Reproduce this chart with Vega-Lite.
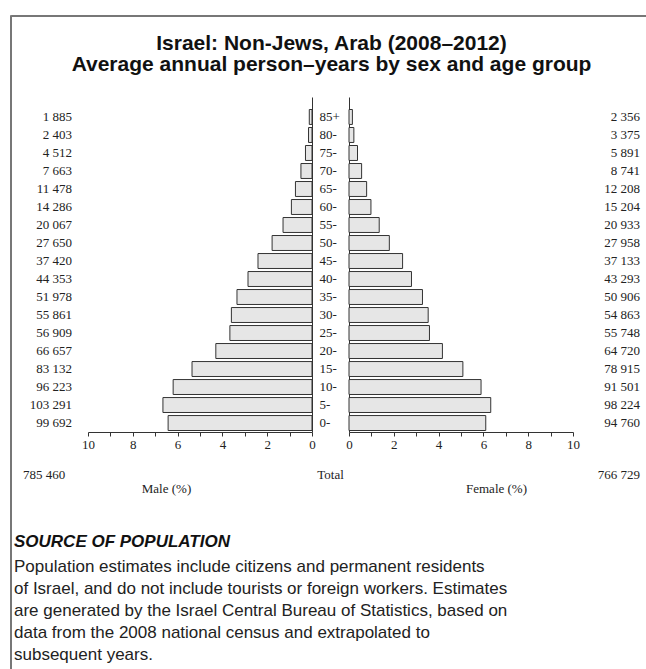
{
  "$schema": "https://vega.github.io/schema/vega-lite/v6.json",
  "padding": {"left": 9, "top": 14, "right": 0, "bottom": 0},
  "config": {
    "view": {"stroke": null},
    "locale": {"number": {"decimal": ".", "thousands": " ", "grouping": [3], "currency": ["", ""]}},
    "axis": {"labelFont": "Liberation Serif", "titleFont": "Liberation Serif", "labelFontSize": 13, "titleFontSize": 13, "titleFontWeight": "normal", "labelColor": "#222", "titleColor": "#222", "domainColor": "#333", "tickColor": "#333", "grid": false},
    "text": {"font": "Liberation Serif", "fontSize": 13, "color": "#222"}
  },
  "datasets": {
    "pyr": [
      {"age": "85+", "sex": "Male", "count": 1885, "pct": 0.121},
      {"age": "80-", "sex": "Male", "count": 2403, "pct": 0.155},
      {"age": "75-", "sex": "Male", "count": 4512, "pct": 0.291},
      {"age": "70-", "sex": "Male", "count": 7663, "pct": 0.494},
      {"age": "65-", "sex": "Male", "count": 11478, "pct": 0.739},
      {"age": "60-", "sex": "Male", "count": 14286, "pct": 0.920},
      {"age": "55-", "sex": "Male", "count": 20067, "pct": 1.293},
      {"age": "50-", "sex": "Male", "count": 27650, "pct": 1.781},
      {"age": "45-", "sex": "Male", "count": 37420, "pct": 2.411},
      {"age": "40-", "sex": "Male", "count": 44353, "pct": 2.857},
      {"age": "35-", "sex": "Male", "count": 51978, "pct": 3.349},
      {"age": "30-", "sex": "Male", "count": 55861, "pct": 3.599},
      {"age": "25-", "sex": "Male", "count": 56909, "pct": 3.666},
      {"age": "20-", "sex": "Male", "count": 66657, "pct": 4.294},
      {"age": "15-", "sex": "Male", "count": 83132, "pct": 5.356},
      {"age": "10-", "sex": "Male", "count": 96223, "pct": 6.199},
      {"age": "5-", "sex": "Male", "count": 103291, "pct": 6.655},
      {"age": "0-", "sex": "Male", "count": 99692, "pct": 6.423},
      {"age": "85+", "sex": "Female", "count": 2356, "pct": 0.152},
      {"age": "80-", "sex": "Female", "count": 3375, "pct": 0.217},
      {"age": "75-", "sex": "Female", "count": 5891, "pct": 0.380},
      {"age": "70-", "sex": "Female", "count": 8741, "pct": 0.563},
      {"age": "65-", "sex": "Female", "count": 12208, "pct": 0.787},
      {"age": "60-", "sex": "Female", "count": 15204, "pct": 0.980},
      {"age": "55-", "sex": "Female", "count": 20933, "pct": 1.349},
      {"age": "50-", "sex": "Female", "count": 27958, "pct": 1.801},
      {"age": "45-", "sex": "Female", "count": 37133, "pct": 2.392},
      {"age": "40-", "sex": "Female", "count": 43293, "pct": 2.789},
      {"age": "35-", "sex": "Female", "count": 50906, "pct": 3.280},
      {"age": "30-", "sex": "Female", "count": 54863, "pct": 3.535},
      {"age": "25-", "sex": "Female", "count": 55748, "pct": 3.592},
      {"age": "20-", "sex": "Female", "count": 64720, "pct": 4.170},
      {"age": "15-", "sex": "Female", "count": 78915, "pct": 5.084},
      {"age": "10-", "sex": "Female", "count": 91501, "pct": 5.895},
      {"age": "5-", "sex": "Female", "count": 98224, "pct": 6.328},
      {"age": "0-", "sex": "Female", "count": 94760, "pct": 6.105}
    ],
    "totals": [
      {"sex": "Male", "total": 785460},
      {"sex": "Female", "total": 766729}
    ]
  },
  "spacing": 0,
  "bounds": "flush",
  "hconcat": [
    {
      "width": 1,
      "height": 700,
      "view": {"stroke": "#777", "strokeWidth": 1},
      "data": {"values": [{}]},
      "mark": {"type": "rule", "opacity": 0},
      "encoding": {}
    },
    {
      "spacing": 16,
      "title": {
        "text": "SOURCE OF POPULATION",
        "subtitle": [
          "Population estimates include citizens and permanent residents",
          "of Israel, and do not include tourists or foreign workers. Estimates",
          "are generated by the Israel Central Bureau of Statistics, based on",
          "data from the 2008 national census and extrapolated to",
          "subsequent years."
        ],
        "orient": "bottom",
        "anchor": "start",
        "frame": "bounds",
        "dx": 4,
        "offset": 39,
        "font": "Liberation Sans",
        "fontSize": 17,
        "fontStyle": "italic",
        "fontWeight": "bold",
        "color": "#111",
        "subtitleFont": "Liberation Sans",
        "subtitleFontSize": 17,
        "subtitleColor": "#222",
        "subtitleLineHeight": 22,
        "subtitlePadding": 8
      },
      "vconcat": [
        {
          "width": 637,
          "height": 1,
          "view": {"stroke": "#777", "strokeWidth": 1},
          "data": {"values": [{}]},
          "mark": {"type": "rule", "opacity": 0},
          "encoding": {}
        },
        {
          "spacing": 0,
          "bounds": "flush",
          "title": {
            "text": ["Israel: Non-Jews, Arab (2008–2012)", "Average annual person–years by sex and age group"],
            "anchor": "middle",
            "font": "Liberation Sans",
            "fontSize": 21,
            "fontWeight": "bold",
            "color": "#111",
            "lineHeight": 21,
            "offset": 22,
            "dx": 6
          },
          "hconcat": [
            {
              "width": 77,
              "height": 335,
              "layer": [
                {
                  "data": {"name": "pyr"},
                  "transform": [{"filter": "datum.sex === 'Male'"}],
                  "mark": {"type": "text", "align": "right", "baseline": "middle", "dx": -16},
                  "encoding": {
                    "y": {"field": "age", "type": "nominal", "sort": null, "scale": {"type": "band", "paddingInner": 0.17, "paddingOuter": 0.389, "align": 0.893}, "axis": null},
                    "x": {"value": "width"},
                    "text": {"field": "count", "type": "quantitative", "format": ",d"}
                  }
                },
                {
                  "data": {"name": "totals"},
                  "transform": [{"filter": "datum.sex === 'Male'"}],
                  "mark": {"type": "text", "align": "left", "baseline": "middle", "dy": 43},
                  "encoding": {
                    "x": {"value": 12},
                    "y": {"value": "height"},
                    "text": {"field": "total", "type": "quantitative", "format": ",d"}
                  }
                }
              ]
            },
            {
              "width": 224,
              "height": 335,
              "data": {"name": "pyr"},
              "transform": [{"filter": "datum.sex === 'Male'"}],
              "mark": {"type": "bar", "fill": "#e6e6e6", "stroke": "#333", "strokeWidth": 1},
              "encoding": {
                "y": {"field": "age", "type": "nominal", "sort": null, "scale": {"type": "band", "paddingInner": 0.17, "paddingOuter": 0.389, "align": 0.893},
                  "axis": {"orient": "right", "domain": true, "ticks": false, "labelPadding": 7, "labelAlign": "left", "title": null}},
                "x": {"field": "pct", "type": "quantitative", "scale": {"domain": [0, 10], "reverse": true},
                  "axis": {"values": [0, 1, 2, 3, 4, 5, 6, 7, 8, 9, 10], "labelExpr": "datum.value % 2 === 0 ? datum.label : ''", "title": "Male (%)", "titleX": 78, "titlePadding": 31, "tickSize": 4, "labelPadding": 2, "labelFlush": false, "labelOverlap": false}}
              }
            },
            {
              "width": 37,
              "height": 335,
              "data": {"values": [{"label": "Total"}]},
              "mark": {"type": "text", "baseline": "middle", "dy": 43},
              "encoding": {
                "y": {"value": "height"},
                "text": {"field": "label", "type": "nominal"}
              }
            },
            {
              "width": 224,
              "height": 335,
              "data": {"name": "pyr"},
              "transform": [{"filter": "datum.sex === 'Female'"}],
              "mark": {"type": "bar", "fill": "#e6e6e6", "stroke": "#333", "strokeWidth": 1},
              "encoding": {
                "y": {"field": "age", "type": "nominal", "sort": null, "scale": {"type": "band", "paddingInner": 0.17, "paddingOuter": 0.389, "align": 0.893},
                  "axis": {"orient": "left", "domain": true, "ticks": false, "labels": false, "title": null}},
                "x": {"field": "pct", "type": "quantitative", "scale": {"domain": [0, 10]},
                  "axis": {"values": [0, 1, 2, 3, 4, 5, 6, 7, 8, 9, 10], "labelExpr": "datum.value % 2 === 0 ? datum.label : ''", "title": "Female (%)", "titleX": 147, "titlePadding": 31, "tickSize": 4, "labelPadding": 2, "labelFlush": false, "labelOverlap": false}}
              }
            },
            {
              "width": 67,
              "height": 335,
              "layer": [
                {
                  "data": {"name": "pyr"},
                  "transform": [{"filter": "datum.sex === 'Female'"}],
                  "mark": {"type": "text", "align": "right", "baseline": "middle"},
                  "encoding": {
                    "y": {"field": "age", "type": "nominal", "sort": null, "scale": {"type": "band", "paddingInner": 0.17, "paddingOuter": 0.389, "align": 0.893}, "axis": null},
                    "x": {"value": "width"},
                    "text": {"field": "count", "type": "quantitative", "format": ",d"}
                  }
                },
                {
                  "data": {"name": "totals"},
                  "transform": [{"filter": "datum.sex === 'Female'"}],
                  "mark": {"type": "text", "align": "right", "baseline": "middle", "dy": 43},
                  "encoding": {
                    "x": {"value": "width"},
                    "y": {"value": "height"},
                    "text": {"field": "total", "type": "quantitative", "format": ",d"}
                  }
                }
              ]
            }
          ]
        }
      ]
    }
  ]
}
